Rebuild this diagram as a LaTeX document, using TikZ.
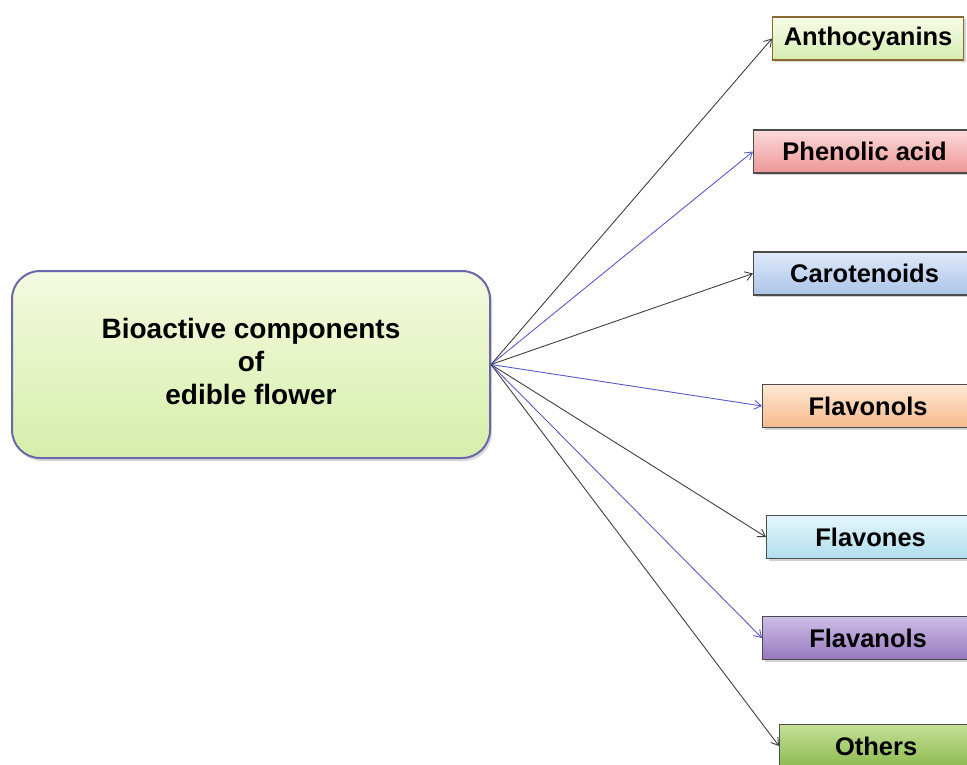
\documentclass[tikz,border=0pt]{standalone}
\usepackage{fontspec}
\setmainfont{Liberation Sans}
\usetikzlibrary{arrows.meta,shadows}
\definecolor{arrgray}{HTML}{404040}
\definecolor{arrblue}{HTML}{5A5AC8}
\tikzset{
  leaf/.style={draw=black!70, line width=1.2pt, anchor=west, minimum height=43pt,
    font=\bfseries\fontsize{25.5}{28}\selectfont, inner sep=0pt,
    drop shadow={opacity=0.35, shadow xshift=2pt, shadow yshift=-2pt}},
  conn/.style={line width=0.9pt, -{Straight Barb[length=7pt,width=9pt]}},
}
\begin{document}
\begin{tikzpicture}[x=1pt,y=-1pt]
\useasboundingbox (0,0) rectangle (967,764);
\node[draw={rgb,255:red,104;green,104;blue,170}, line width=2pt, rounded corners=28pt,
  minimum width=478pt, minimum height=187pt, top color={rgb,255:red,244;green,250;blue,224},
  bottom color={rgb,255:red,214;green,238;blue,170},
  drop shadow={opacity=0.3, shadow xshift=2pt, shadow yshift=-3pt}]
  (main) at (251,364.5) {};
\node[align=center, font=\bfseries\fontsize{28}{33}\selectfont] (mtext) at (251,361)
  {Bioactive components\\of\\edible flower};

\node[leaf, draw={rgb,255:red,140;green,105;blue,50}, minimum width=191pt,
  top color={rgb,255:red,246;green,252;blue,232}, bottom color={rgb,255:red,214;green,236;blue,176}]
  (anth) at (772,38.5) {Anthocyanins};
\node[leaf, minimum width=222pt,
  top color={rgb,255:red,252;green,218;blue,218}, bottom color={rgb,255:red,238;green,150;blue,150}]
  (phen) at (753,151.5) {Phenolic acid};
\node[leaf, minimum width=222pt,
  top color={rgb,255:red,224;green,234;blue,250}, bottom color={rgb,255:red,170;green,196;blue,232}]
  (caro) at (753,273.5) {Carotenoids};
\node[leaf, minimum width=211pt,
  top color={rgb,255:red,254;green,232;blue,212}, bottom color={rgb,255:red,246;green,186;blue,140}]
  (flnl) at (762,406) {Flavonols};
\node[leaf, minimum width=208pt,
  top color={rgb,255:red,228;green,246;blue,252}, bottom color={rgb,255:red,176;green,222;blue,238}]
  (flvn) at (766,537) {Flavones};
\node[leaf, minimum width=211pt,
  top color={rgb,255:red,206;green,190;blue,230}, bottom color={rgb,255:red,150;green,120;blue,190}]
  (flan) at (762,638) {Flavanols};
\node[leaf, minimum width=193pt,
  top color={rgb,255:red,196;green,224;blue,150}, bottom color={rgb,255:red,140;green,186;blue,80}]
  (oth) at (779,746) {Others};

\draw[conn, arrgray] (main.east) -- (anth.west);
\draw[conn, arrblue] (main.east) -- (phen.west);
\draw[conn, arrgray] (main.east) -- (caro.west);
\draw[conn, arrblue] (main.east) -- (flnl.west);
\draw[conn, arrgray] (main.east) -- (flvn.west);
\draw[conn, arrblue] (main.east) -- (flan.west);
\draw[conn, arrgray] (main.east) -- (oth.west);
\end{tikzpicture}
\end{document}
